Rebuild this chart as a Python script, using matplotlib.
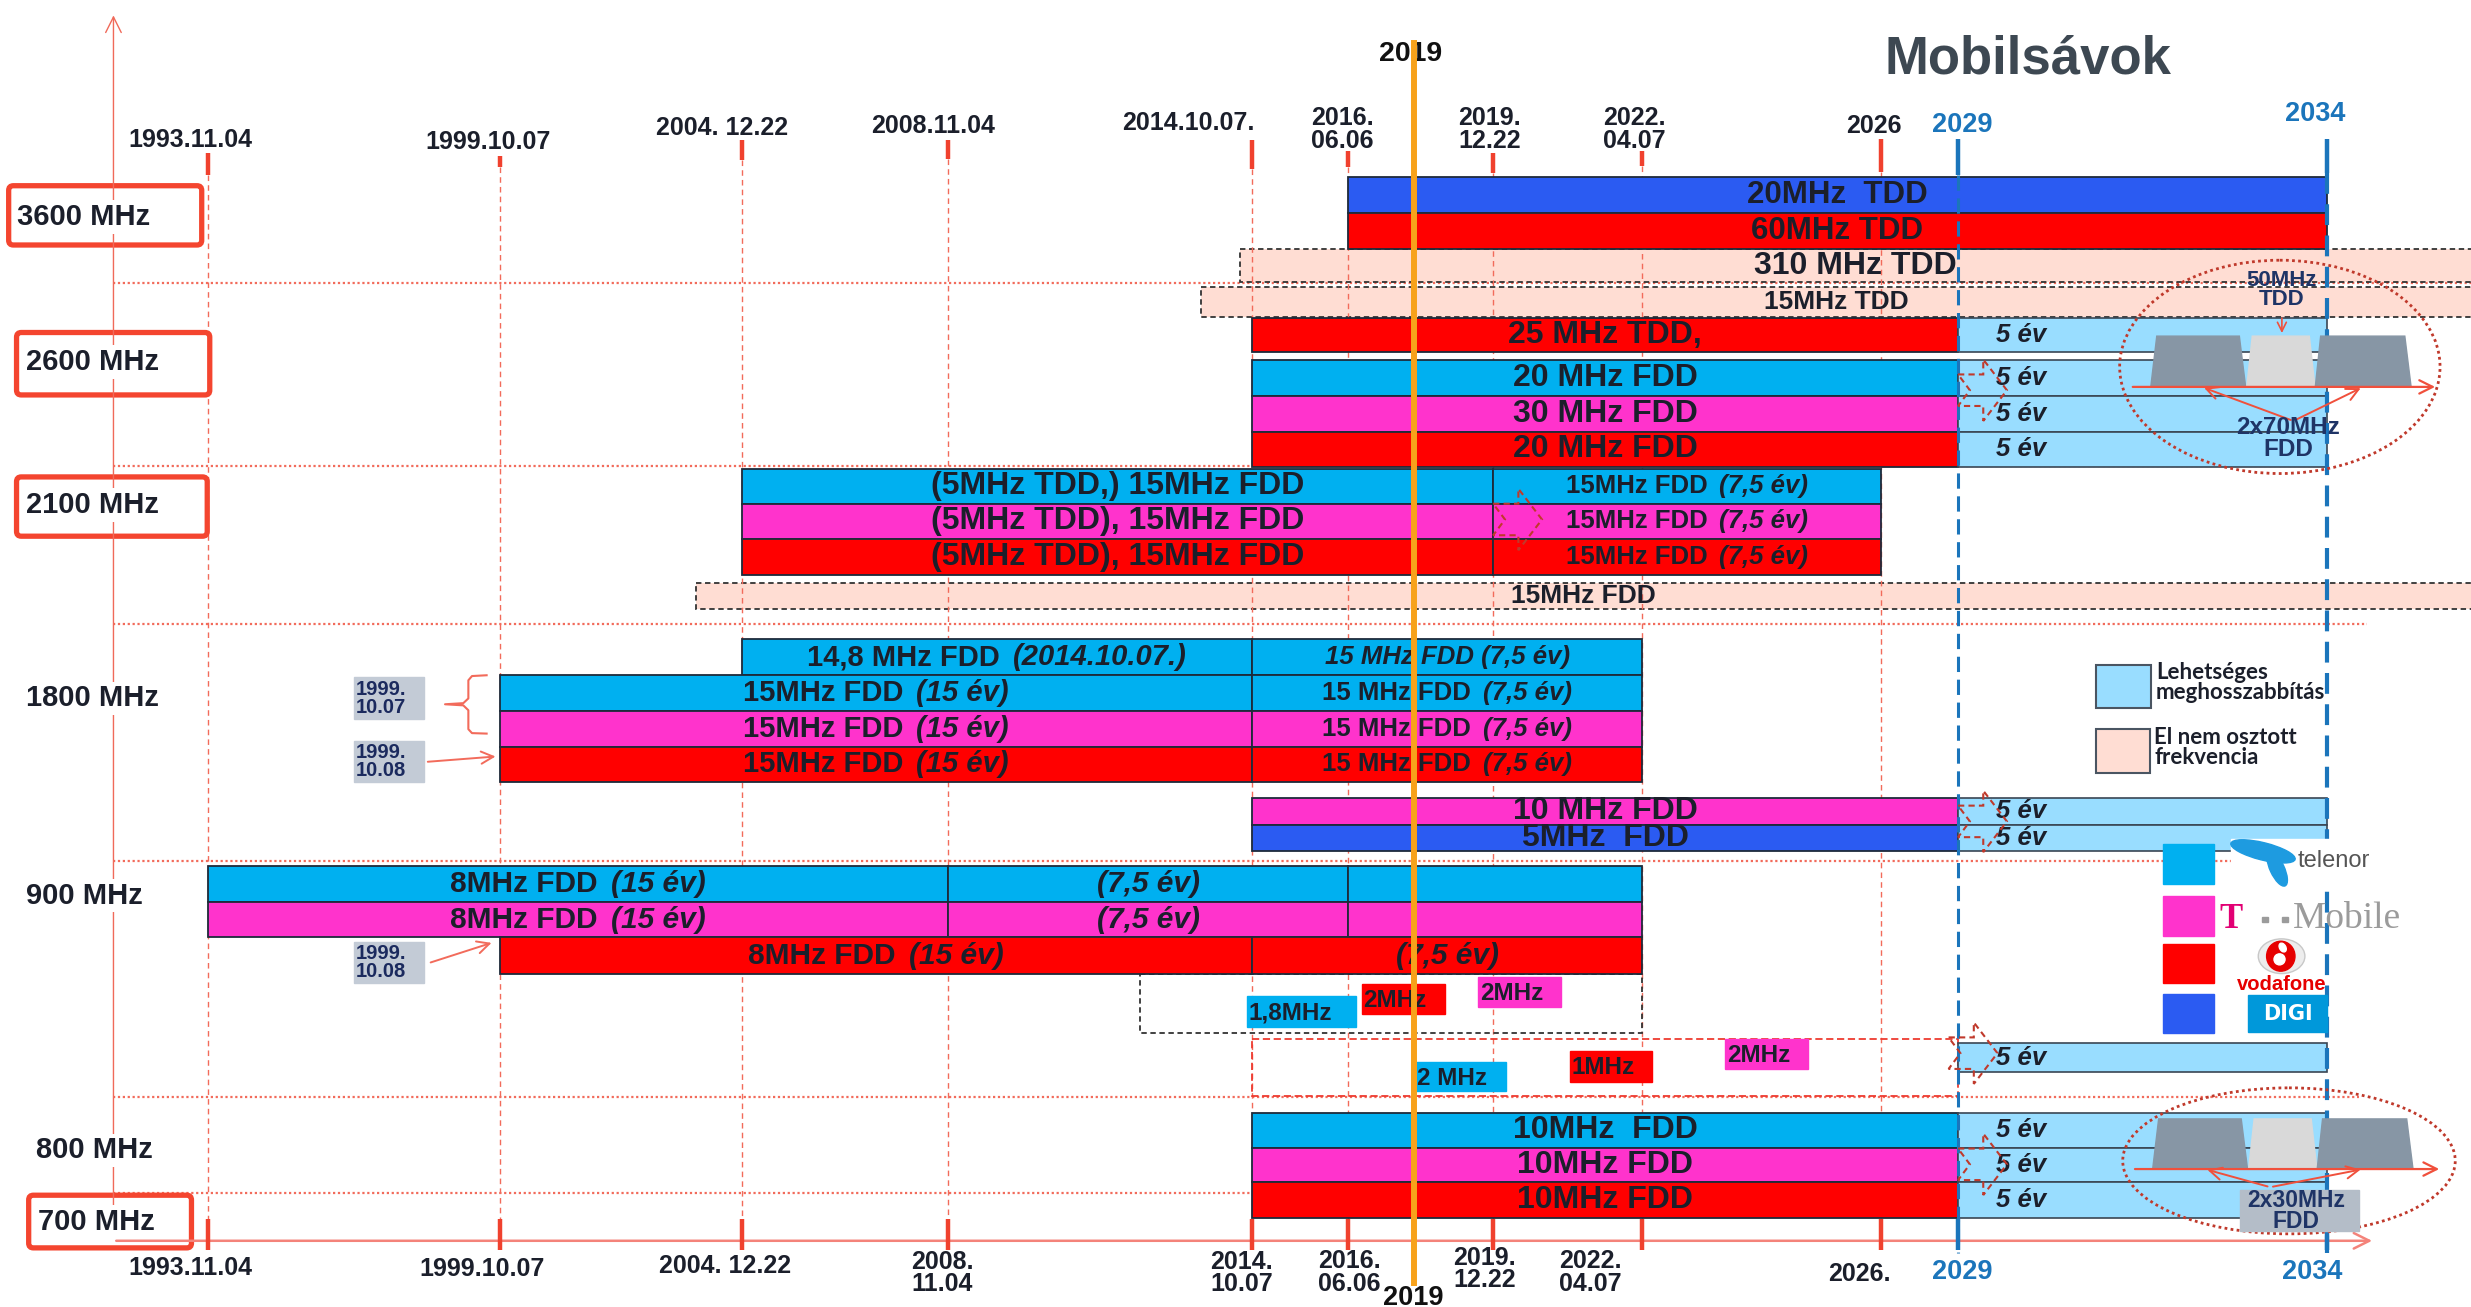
import numpy as np
import matplotlib
matplotlib.use("Agg")
import matplotlib.pyplot as plt
from matplotlib.patches import Rectangle, FancyBboxPatch, Ellipse, Polygon
from matplotlib.offsetbox import TextArea, HPacker, AnnotationBbox

# ====================== DATA ======================
MILESTONES = ["1993.11.04", "1999.10.07", "2004.12.22", "2008.11.04", "2014.10.07",
              "2016.06.06", "2019.12.22", "2022.04.07", "2026", "2029", "2034"]
MILESTONE_YEARS = [1993.84, 1999.77, 2004.97, 2008.84, 2014.77,
                   2016.43, 2019.97, 2022.26, 2026.0, 2029.0, 2034.0]
TOP_LABELS = ["1993.11.04", "1999.10.07", "2004. 12.22", "2008.11.04", "2014.10.07.",
              "2016.\n06.06", "2019.\n12.22", "2022.\n04.07", "2026", "2029", "2034"]
BOTTOM_LABELS = ["1993.11.04", "1999.10.07", "2004. 12.22", "2008.\n11.04", "2014.\n10.07",
                 "2016.\n06.06", "2019.\n12.22", "2022.\n04.07", "2026.", "2029", "2034"]
NOW_LABEL = "2019"
TITLE = "Mobilsávok"

BANDS = ["3600 MHz", "2600 MHz", "2100 MHz", "1800 MHz", "900 MHz", "800 MHz", "700 MHz"]

OPERATORS = ["Telenor", "Telekom", "Vodafone", "DIGI"]

# (row, start, end, operator, upright text, italic text)
BARS_3600 = [
    ("3600_digi", "2016.06.06", "2034", "DIGI", "20MHz  TDD", ""),
    ("3600_voda", "2016.06.06", "2034", "Vodafone", "60MHz TDD", ""),
]
BARS_2600 = [
    ("2600_voda_tdd", "2014.10.07", "2029", "Vodafone", "25 MHz TDD,", ""),
    ("2600_tel", "2014.10.07", "2029", "Telenor", "20 MHz FDD", ""),
    ("2600_tm", "2014.10.07", "2029", "Telekom", "30 MHz FDD", ""),
    ("2600_voda", "2014.10.07", "2029", "Vodafone", "20 MHz FDD", ""),
]
BARS_2100 = [
    ("2100_tel", "2004.12.22", "2019.12.22", "Telenor", "(5MHz TDD,) 15MHz FDD", ""),
    ("2100_tel", "2019.12.22", "2026", "Telenor", "15MHz FDD", "(7,5 év)"),
    ("2100_tm", "2004.12.22", "2019.12.22", "Telekom", "(5MHz TDD), 15MHz FDD", ""),
    ("2100_tm", "2019.12.22", "2026", "Telekom", "15MHz FDD", "(7,5 év)"),
    ("2100_voda", "2004.12.22", "2019.12.22", "Vodafone", "(5MHz TDD), 15MHz FDD", ""),
    ("2100_voda", "2019.12.22", "2026", "Vodafone", "15MHz FDD", "(7,5 év)"),
]
BARS_1800 = [
    ("1800_tel148", "2004.12.22", "2014.10.07", "Telenor", "14,8 MHz FDD", "(2014.10.07.)"),
    ("1800_tel148", "2014.10.07", "2022.04.07", "Telenor", "", "15 MHz FDD (7,5 év)"),
    ("1800_tel", "1999.10.07", "2014.10.07", "Telenor", "15MHz FDD ", "(15 év)"),
    ("1800_tel", "2014.10.07", "2022.04.07", "Telenor", "15 MHz FDD", "(7,5 év)"),
    ("1800_tm", "1999.10.07", "2014.10.07", "Telekom", "15MHz FDD ", "(15 év)"),
    ("1800_tm", "2014.10.07", "2022.04.07", "Telekom", "15 MHz FDD", "(7,5 év)"),
    ("1800_voda", "1999.10.07", "2014.10.07", "Vodafone", "15MHz FDD", "(15 év)"),
    ("1800_voda", "2014.10.07", "2022.04.07", "Vodafone", "15 MHz FDD", "(7,5 év)"),
    ("1800_tm10", "2014.10.07", "2029", "Telekom", "10 MHz FDD", ""),
    ("1800_digi", "2014.10.07", "2029", "DIGI", "5MHz  FDD", ""),
]
BARS_900 = [
    ("900_tel", "1993.11.04", "2008.11.04", "Telenor", "8MHz FDD  ", "(15 év)"),
    ("900_tel", "2008.11.04", "2016.06.06", "Telenor", "", "(7,5 év)"),
    ("900_tel", "2016.06.06", "2022.04.07", "Telenor", "", ""),
    ("900_tm", "1993.11.04", "2008.11.04", "Telekom", "8MHz FDD ", "(15 év)"),
    ("900_tm", "2008.11.04", "2016.06.06", "Telekom", "", "(7,5 év)"),
    ("900_tm", "2016.06.06", "2022.04.07", "Telekom", "", ""),
    ("900_voda", "1999.10.07", "2014.10.07", "Vodafone", "8MHz FDD", "(15 év)"),
    ("900_voda", "2014.10.07", "2022.04.07", "Vodafone", "", "(7,5 év)"),
]
BARS_800 = [
    ("800_tel", "2014.10.07", "2029", "Telenor", "10MHz  FDD", ""),
    ("800_tm", "2014.10.07", "2029", "Telekom", "10MHz FDD", ""),
    ("800_voda", "2014.10.07", "2029", "Vodafone", "10MHz FDD", ""),
]
# unallocated spectrum (row, start year, end (None = open), label)
FREE = [
    ("3600_free310", 2014.54, None, "310 MHz TDD"),
    ("3600_free15", 2013.77, None, "15MHz TDD"),
    ("2100_free", 2003.98, None, "15MHz FDD"),
]
# possible extensions 2029 -> 2034
EXTENSIONS = ["2600_voda_tdd", "2600_tel", "2600_tm", "2600_voda",
              "1800_tm10", "1800_digi", "900_ext", "800_tel", "800_tm", "800_voda"]
EXT_LABEL = "5 év"
# small 900 MHz blocks
SMALL_900_A = [("Telenor", "1,8MHz"), ("Vodafone", "2MHz"), ("Telekom", "2MHz")]
SMALL_900_B = [("Telenor", "2 MHz"), ("Vodafone", "1MHz"), ("Telekom", "2MHz")]
DATE_NOTES = ["1999.\n10.07", "1999.\n10.08", "1999.\n10.08"]
LEGEND_TEXTS = ["Lehetséges\nmeghosszabbítás", "El nem osztott\nfrekvencia"]
SPECTRUM_2600 = ["50MHz\nTDD", "2x70MHz\nFDD"]
SPECTRUM_800 = ["2x30MHz\nFDD"]

# ====================== LAYOUT / STYLE ======================
W, H = 1568, 829
MILESTONE_X = [132, 317, 471, 601.5, 794.5, 855.5, 947.5, 1042, 1193.5, 1242.5, 1476.5]
NOW_X = 897
AXIS_X, AXIS_Y = 72, 787
TOP_LABEL_XY = [(121, 89), (310, 90), (458, 81), (592, 80), (754, 78), (852, 82),
                (945, 82), (1037, 82), (1189, 80), (1245, 79), (1469, 72)]
BOTTOM_LABEL_XY = [(121, 804), (306, 805), (460, 803), (598, 807.5), (788, 807.5), (856, 807),
                   (942, 805), (1009, 807), (1180, 808), (1245, 807), (1467, 807)]
TOP_TICK = [(97, 111), (98.8, 105.8), (89, 101.5), (88.5, 101), (88.5, 107), (96, 106),
            (97, 110), (96, 105), (88, 109), (88, 111), (88, 110)]
ROWS = {
    "3600_digi": (112, 135), "3600_voda": (135, 158),
    "3600_free310": (158, 179), "3600_free15": (182, 201),
    "2600_voda_tdd": (201.6, 223.2), "2600_tel": (228.4, 251.1),
    "2600_tm": (251.1, 273.7), "2600_voda": (273.7, 296.1),
    "2100_tel": (297.6, 319.4), "2100_tm": (319.4, 342), "2100_voda": (342, 364.7),
    "2100_free": (369.5, 386),
    "1800_tel148": (405.5, 428.3), "1800_tel": (428.3, 451), "1800_tm": (451, 473.6),
    "1800_voda": (473.6, 496.2), "1800_tm10": (506, 523), "1800_digi": (523, 540),
    "900_tel": (549.3, 572), "900_tm": (572, 594.6), "900_voda": (594.6, 617.6),
    "900_ext": (661.6, 680),
    "800_tel": (706, 728), "800_tm": (728, 750), "800_voda": (750, 772.7),
}
ROW_FONT = {"3600": 22.5, "2600": 23, "2100": 23, "1800": 21, "900": 21.5, "800": 23}
ROW_FONT_OVERRIDE = {"1800_tm10": 23, "1800_digi": 23}
BAND_LABEL_XY = [(11, 137.5), (16.7, 229.5), (16.7, 320.5), (16.7, 443), (16.7, 568),
                 (22.8, 729.7), (24.3, 775)]
BAND_BOXES = [(4, 116.3, 129.5, 156.9), (9, 209.4, 134.6, 252), (9, 301, 133, 341.6),
              (16.7, 756.6, 123, 793)]
SEPARATORS = [(179.5, 1568), (295.5, 1476), (396, 1502), (546, 1505), (695.5, 1497), (756.6, 795)]

COLORS = {"Telenor": "#00B0F0", "Telekom": "#FF33CC", "Vodafone": "#FF0000", "DIGI": "#2B5BF2"}
EXT_COLOR = "#99DDFF"
FREE_COLOR = "#FFDDD3"
DARK = "#1B1F2B"
SALMON = "#F26B5B"
BLUE_LINE = "#1B75BB"
ORANGE = "#F7A21B"
NAVY = "#1F3466"
FONT = ["Liberation Sans", "DejaVu Sans"]
plt.rcParams["font.family"] = FONT


def X(v):
    if v is None:
        return W + 40
    if isinstance(v, str):
        return MILESTONE_X[MILESTONES.index(v)]
    return float(np.interp(v, MILESTONE_YEARS, MILESTONE_X))


def row_center(r):
    t, b = ROWS[r]
    return (t + b) / 2, b - t


fig = plt.figure(figsize=(24.71, 13.07), dpi=100)
ax = fig.add_axes([0, 0, 1, 1])
ax.set_xlim(0, W)
ax.set_ylim(H, 0)
ax.axis("off")

# ---------- separators ----------
for y, xe in SEPARATORS:
    ax.plot([AXIS_X, xe], [y, y], color=SALMON, lw=1.6, ls=(0, (1, 1.2)), zorder=0.3)

# ---------- unallocated ----------
for r, s, e, lab in FREE:
    yc, h = row_center(r)
    ax.barh(yc, X(e) - X(s), left=X(s), height=h, color=FREE_COLOR, edgecolor="#333333",
            lw=1.3, ls=(0, (3, 2)), zorder=0.5)
    xm = (X(s) + min(X(e), W)) / 2
    ax.text(xm, yc, lab, ha="center", va="center", fontsize=23 if "310" in lab else 19,
            fontweight="bold", color=DARK, zorder=6)

# ---------- guide lines and ticks ----------
for i, m in enumerate(MILESTONES):
    x = MILESTONE_X[i]
    t0, t1 = TOP_TICK[i]
    blue = m in ("2029", "2034")
    col = BLUE_LINE if blue else "#F0412E"
    ax.plot([x, x], [t0, t1], color=col, lw=3.2, solid_capstyle="butt", zorder=7)
    ax.plot([x, x], [773, 793], color=col, lw=3.2, solid_capstyle="butt", zorder=7)
    if blue:
        lw = 2.2 if m == "2029" else 3.0
        ax.plot([x, x], [t1, 795], color=BLUE_LINE, lw=lw, ls=(0, (5, 2.5)), zorder=4)
    else:
        ax.plot([x, x], [t1, AXIS_Y], color=SALMON, lw=1.0, ls=(0, (4, 3)), zorder=1)
    tc = BLUE_LINE if blue else DARK
    fs = 19.5 if blue else 18
    ax.text(*TOP_LABEL_XY[i], TOP_LABELS[i], ha="center", va="center", fontsize=fs,
            fontweight="bold", color=tc, linespacing=0.92, zorder=8)
    ax.text(*BOTTOM_LABEL_XY[i], BOTTOM_LABELS[i], ha="center", va="center", fontsize=fs,
            fontweight="bold", color=tc, linespacing=0.92, zorder=8)

# ---------- axes arrows ----------
ax.annotate("", xy=(1507, AXIS_Y), xytext=(AXIS_X, AXIS_Y),
            arrowprops=dict(arrowstyle="->", color="#F4837A", lw=1.8, mutation_scale=28), zorder=2)
ax.annotate("", xy=(AXIS_X, 8), xytext=(AXIS_X, AXIS_Y),
            arrowprops=dict(arrowstyle="->", color="#F06A5A", lw=1.0, mutation_scale=28), zorder=2)


# ---------- bars ----------
def bar_label(x, y, main, ital, size):
    parts = []
    if main:
        parts.append(TextArea(main.strip(), textprops=dict(fontsize=size, fontweight="bold",
                                                           color=DARK, family=FONT)))
    if ital:
        parts.append(TextArea(ital, textprops=dict(fontsize=size, fontweight="bold",
                                                   fontstyle="italic", color=DARK, family=FONT)))
    if not parts:
        return
    box = HPacker(children=parts, align="baseline", pad=0, sep=size * 0.45)
    ab = AnnotationBbox(box, (x, y), xycoords="data", frameon=False,
                        box_alignment=(0.5, 0.5), pad=0, zorder=6)
    ax.add_artist(ab)


def label_size(row, main, ital):
    if "7,5" in ital and (main or len(ital) > 10):
        return 18.5
    if row in ROW_FONT_OVERRIDE:
        return ROW_FONT_OVERRIDE[row]
    return ROW_FONT[row.split("_")[0]]


for group in (BARS_3600, BARS_2600, BARS_2100, BARS_1800, BARS_900, BARS_800):
    for r, s, e, op, main, ital in group:
        yc, h = row_center(r)
        ax.barh(yc, X(e) - X(s), left=X(s), height=h, color=COLORS[op],
                edgecolor="#1E2A3A", lw=1.3, zorder=3)
        bar_label((X(s) + X(e)) / 2, yc, main, ital, label_size(r, main, ital))

# ---------- extensions ----------
for r in EXTENSIONS:
    yc, h = row_center(r)
    ax.barh(yc, X("2034") - X("2029"), left=X("2029"), height=h, color=EXT_COLOR,
            edgecolor="#3A4654", lw=1.2, zorder=3)
    ax.text(X("2029") + 24, yc, EXT_LABEL, ha="left", va="center", fontsize=18.5,
            fontweight="bold", fontstyle="italic", color=DARK, zorder=6)

# ---------- 900 MHz small blocks ----------
ax.add_patch(Rectangle((X(2012.59), 617.6), X("2022.04.07") - X(2012.59), 37.4, fill=False,
                       ec="#333333", lw=1.3, ls=(0, (3, 2)), zorder=2))
ax.add_patch(Rectangle((X("2014.10.07"), 659), X("2029") - X("2014.10.07"), 36.3, fill=False,
                       ec="#EE3B30", lw=1.3, ls=(0, (4, 2)), zorder=2))
SMALL_A_BOX = [(791, 632, 69.5, 19.5), (864, 624, 53, 19), (938, 619.7, 52.5, 18.7)]
SMALL_B_BOX = [(898, 673.7, 57.4, 18.6), (996, 666.7, 52.5, 19.3), (1094.7, 659, 52.6, 19)]
for (op, lab), (x0, y0, w, h) in list(zip(SMALL_900_A, SMALL_A_BOX)) + list(zip(SMALL_900_B, SMALL_B_BOX)):
    ax.add_patch(Rectangle((x0, y0), w, h, color=COLORS[op], zorder=4))
    ax.text(x0 + 1, y0 + h / 2 + 1, lab, ha="left", va="center", fontsize=17.5,
            fontweight="bold", color=DARK, zorder=6)

# ---------- chevron arrows ----------
CHEVRONS = [("2019.12.22", 329.5), ("2029", 247.5), ("2029", 521), ("2029", 668), ("2029", 738.5)]
for m, yc in CHEVRONS:
    x0 = X(m) - (6 if yc == 668 else 0)
    rel = [(0, -10), (16, -10), (16, -19.5), (31, 0), (16, 19.5), (16, 10), (0, 10), (7.5, 0)]
    ax.add_patch(Polygon([(x0 + a, yc + b) for a, b in rel], closed=True, fill=False,
                         ec="#C0392B", lw=1.5, ls=(0, (3, 2)), zorder=6))

# ---------- now line ----------
ax.plot([NOW_X, NOW_X], [27, 814], color=ORANGE, lw=4.3, zorder=10)
ax.text(895, 34, NOW_LABEL, ha="center", va="center", fontsize=20.5, fontweight="bold",
        color="#111111", zorder=9)
ax.text(NOW_X, 823, NOW_LABEL, ha="center", va="center", fontsize=19.5, fontweight="bold",
        color="#111111", zorder=9)

# ---------- title ----------
ax.text(1287, 38, TITLE, ha="center", va="center", fontsize=38, fontweight="bold",
        color="#3D4852", zorder=9)

# ---------- band labels ----------
for (x0, y0, x1, y1) in BAND_BOXES:
    ax.add_patch(FancyBboxPatch((x0 + 1.5, y0 + 1.5), x1 - x0 - 3, y1 - y0 - 3,
                                boxstyle="round,pad=0,rounding_size=3", fc="white",
                                ec="#F4452F", lw=3.8, zorder=1.5))
for lab, (x, y) in zip(BANDS, BAND_LABEL_XY):
    ax.text(x, y, lab, ha="left", va="center", fontsize=21, fontweight="bold", color=DARK,
            zorder=3, bbox=dict(fc="white", ec="none", pad=2))

# ---------- date notes ----------
NOTE_BOXES = [(224.6, 429.4, 44.6, 26.9), (224.6, 470, 44.6, 26), (224.6, 597.5, 44.4, 26)]
for txt, (x0, y0, w, h) in zip(DATE_NOTES, NOTE_BOXES):
    ax.add_patch(Rectangle((x0, y0), w, h, color="#C3CBD6", zorder=4))
    ax.text(x0 + 1, y0 + h / 2, txt, ha="left", va="center", fontsize=14.5, fontweight="bold",
            color="#1B2A5E", linespacing=0.95, zorder=5)
brace = [(308.8, 428.3), (299.5, 428.8), (297.2, 431.5), (297.2, 443), (294, 446),
         (282.4, 446.7), (294, 447.4), (297.2, 450.5), (297.2, 462.5), (299.5, 465), (308.8, 465.3)]
ax.plot([p[0] for p in brace], [p[1] for p in brace], color=SALMON, lw=1.5, zorder=4)
for (xa, ya), (xb, yb) in [((269.7, 483.3), (316.2, 479.7)), ((271.6, 611), (313.6, 597.5))]:
    ax.annotate("", xy=(xb, yb), xytext=(xa, ya),
                arrowprops=dict(arrowstyle="->", color=SALMON, lw=1.4, mutation_scale=22), zorder=4)

# ---------- legend ----------
ax.add_patch(Rectangle((1330, 421.5), 35, 27.5, fc=EXT_COLOR, ec="#4A5562", lw=1.5, zorder=4))
ax.add_patch(Rectangle((1330, 462.6), 34, 27.4, fc=FREE_COLOR, ec="#4A5562", lw=1.5, zorder=4))
ax.text(1368, 433, LEGEND_TEXTS[0], ha="left", va="center", fontsize=16, fontweight="bold",
        color=DARK, linespacing=0.92, family=["Lato", "DejaVu Sans"], zorder=5)
ax.text(1367, 474, LEGEND_TEXTS[1], ha="left", va="center", fontsize=16, fontweight="bold",
        color=DARK, linespacing=0.92, family=["Lato", "DejaVu Sans"], zorder=5)

# ---------- operator legend ----------
SQ_Y = [(535.6, 561), (568.6, 593.7), (598.6, 623.6), (630.3, 655)]
for op, (y0, y1) in zip(OPERATORS, SQ_Y):
    ax.add_patch(Rectangle((1372.4, y0), 32.5, y1 - y0, color=COLORS[op], zorder=5))
# telenor
ax.add_patch(Rectangle((1415.5, 532), 92, 31, color="white", zorder=5))
ax.add_patch(Ellipse((1436, 540), 42, 11, angle=14, color="#1E9BE0", zorder=6))
ax.add_patch(Ellipse((1445, 551), 24, 9, angle=65, color="#1E9BE0", zorder=6))
ax.text(1481, 546, "telenor", ha="center", va="center", fontsize=17, color="#555555", zorder=6)
# T-Mobile
ax.text(1415.6, 583, "T", ha="center", va="center", fontsize=25, fontweight="bold",
        color="#E20074", family=["Liberation Serif", "DejaVu Serif"], zorder=6)
for xd in (1437.3, 1450):
    ax.add_patch(Rectangle((xd - 2, 581.5), 4, 3.5, color="#9B9B9B", zorder=6))
ax.text(1489.5, 583, "Mobile", ha="center", va="center", fontsize=27, color="#9B9B9B",
        family=["Liberation Serif", "DejaVu Serif"], zorder=6)
# vodafone
ax.add_patch(Ellipse((1447.8, 606.5), 29.6, 22, fc="#EDEDED", ec="#C8C8C8", lw=1, zorder=6))
ax.add_patch(Ellipse((1447.3, 606.5), 18, 19, color="#E60000", zorder=7))
ax.add_patch(Ellipse((1446.5, 608.5), 7, 7, color="white", zorder=8))
ax.add_patch(Ellipse((1448.5, 601), 4, 6, angle=-30, color="white", zorder=8))
ax.text(1447.6, 624.5, "vodafone", ha="center", va="center", fontsize=14.5, fontweight="bold",
        color="#E60000", zorder=6)
# DIGI
ax.add_patch(Rectangle((1426.7, 631.4), 49.8, 23.2, color="#0098DA", zorder=6))
ax.text(1451.6, 643, "DIGI", ha="center", va="center", fontsize=15, fontweight="bold",
        color="white", family=["DejaVu Sans"], zorder=7)


# ---------- spectrum illustrations ----------
def spectrum(x0, y_top, y_base, ell, line, vtip, vends, zo=8):
    traps = [((0, 60.2), (3.8, 56.2), "#8796A5"), ((60.9, 104.2), (64.4, 100.6), "#D9D9D9"),
             ((104.4, 165.2), (107.8, 161.2), "#8796A5")]
    for (b0, b1), (t0, t1), c in traps:
        ax.add_patch(Polygon([(x0 + b0, y_base), (x0 + b1, y_base), (x0 + t1, y_top),
                              (x0 + t0, y_top)], closed=True, color=c, zorder=zo))
    cx, cy, w, h = ell
    ax.add_patch(Ellipse((cx, cy), w, h, fill=False, ec="#C0392B", lw=2.0,
                         ls=(0, (1, 1.2)), zorder=zo + 1))
    ax.annotate("", xy=(line[1], y_base), xytext=(line[0], y_base),
                arrowprops=dict(arrowstyle="->", color="#F0503C", lw=1.6, mutation_scale=24),
                zorder=zo + 1)
    for xe in vends:
        ax.annotate("", xy=(xe, y_base), xytext=vtip,
                    arrowprops=dict(arrowstyle="->", color="#F0503C", lw=1.4, mutation_scale=22),
                    zorder=zo + 1)


spectrum(1364.8, 213.2, 245.4, (1446.7, 232.7, 203.3, 135.3), (1351.6, 1547),
         (1455.3, 267), (1397, 1499.6))
ax.annotate("", xy=(1448, 213), xytext=(1448, 200),
            arrowprops=dict(arrowstyle="->", color="#F0503C", lw=1.2, mutation_scale=16), zorder=9)
ax.text(1448, 184, SPECTRUM_2600[0], ha="center", va="center", fontsize=16, fontweight="bold",
        color=NAVY, linespacing=0.92, zorder=10)
ax.text(1452, 278, SPECTRUM_2600[1], ha="center", va="center", fontsize=17.5, fontweight="bold",
        color=NAVY, linespacing=0.92, zorder=10)

spectrum(1366, 709.7, 741.5, (1452.5, 736.3, 211, 92.6), (1353, 1549.6),
         (1440.6, 753), (1399, 1499.7))
ax.add_patch(Rectangle((1421.6, 755), 75.4, 25.6, color="#B4BDC8", zorder=9))
ax.text(1457, 768, SPECTRUM_800[0], ha="center", va="center", fontsize=16.5, fontweight="bold",
        color=NAVY, linespacing=0.92, zorder=10)

fig.savefig("out.png", dpi=100)
